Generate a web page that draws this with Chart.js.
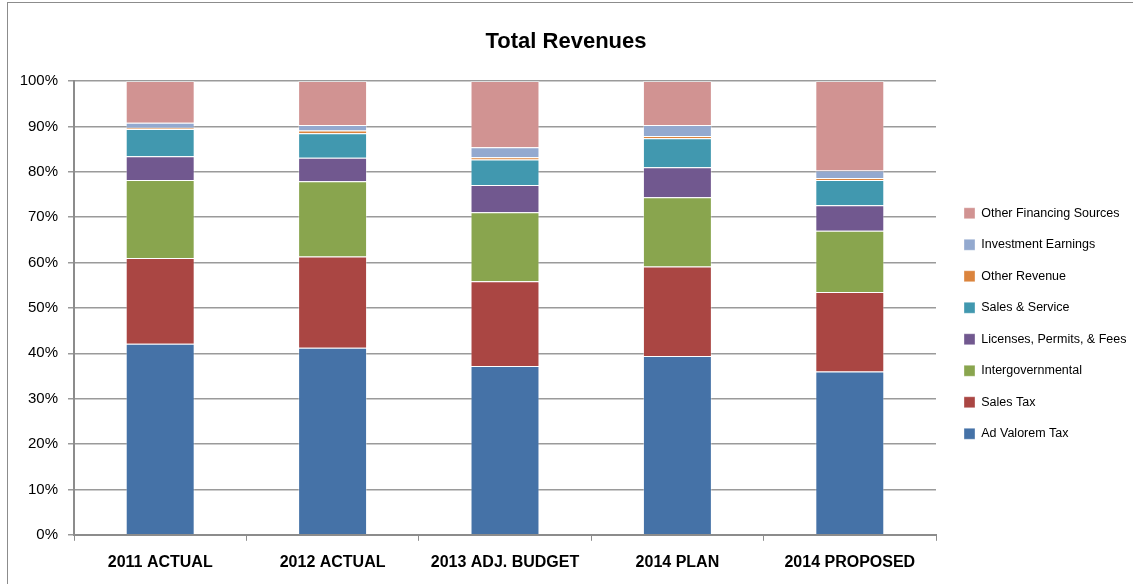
<!DOCTYPE html>
<html>
<head>
<meta charset="utf-8">
<script src="https://cdn.jsdelivr.net/npm/chart.js@4.4.1/dist/chart.umd.min.js"></script>
<style>
  html, body { margin: 0; padding: 0; background: #fff; }
  #wrap {
    position: absolute; left: 7px; top: 2px;
    width: 1130px; height: 590px;
    border: 1px solid #8c8c8c; box-sizing: border-box;
  }
  #myChart { display: block; }
</style>
</head>
<body>
<div id="wrap"><canvas id="myChart" width="1128" height="588"></canvas></div>
<script>
// categories + series (percent of total revenues)
const categories = ['2011 ACTUAL', '2012 ACTUAL', '2013 ADJ. BUDGET', '2014 PLAN', '2014 PROPOSED'];
const adValoremTax = [42.1, 41.2, 37.2, 39.4, 36.0];
const salesTax = [18.9, 20.1, 18.7, 19.7, 17.5];
const intergovernmental = [17.2, 16.6, 15.2, 15.3, 13.5];
const licensesPermitsFees = [5.2, 5.2, 6.0, 6.6, 5.6];
const salesService = [6.0, 5.4, 5.6, 6.4, 5.6];
const otherRevenue = [0.3, 0.6, 0.5, 0.5, 0.4];
const investmentEarnings = [1.1, 1.2, 2.2, 2.4, 1.7];
const otherFinancing = [9.2, 9.7, 14.6, 9.7, 19.7];
const yTicks = [0, 10, 20, 30, 40, 50, 60, 70, 80, 90, 100];

const FONT = "'Liberation Sans', Arial, sans-serif";

const series = [
  { label: 'Ad Valorem Tax', data: adValoremTax, color: '#4572A7' },
  { label: 'Sales Tax', data: salesTax, color: '#AA4643' },
  { label: 'Intergovernmental', data: intergovernmental, color: '#89A54E' },
  { label: 'Licenses, Permits, & Fees', data: licensesPermitsFees, color: '#71588F' },
  { label: 'Sales & Service', data: salesService, color: '#4198AF' },
  { label: 'Other Revenue', data: otherRevenue, color: '#DB843D' },
  { label: 'Investment Earnings', data: investmentEarnings, color: '#93A9CF' },
  { label: 'Other Financing Sources', data: otherFinancing, color: '#D19392' }
];

// move the legend block to where the reference has it (right side, below middle)
const legendPlacer = {
  id: 'legendPlacer',
  afterLayout(chart) {
    const lg = chart.legend;
    if (!lg) return;
    const w = chart.width - 937;
    lg.left = 937; lg.right = 937 + w; lg.width = w;
    lg.top = 185; lg.bottom = chart.height; lg.height = chart.height - 185;
  }
};

const ctx = document.getElementById('myChart').getContext('2d');

new Chart(ctx, {
  type: 'bar',
  data: {
    labels: categories,
    datasets: series.map(s => ({
      label: s.label,
      data: s.data,
      backgroundColor: s.color,
      borderColor: 'rgba(255,255,255,0.35)',
      borderWidth: 1,
      categoryPercentage: 1,
      barPercentage: 0.4
    }))
  },
  options: {
    responsive: false,
    animation: false,
    layout: { padding: { left: 8, right: 20, top: 0, bottom: 7 } },
    plugins: {
      title: {
        display: true,
        text: 'Total Revenues',
        color: '#000',
        font: { family: FONT, size: 22, weight: 'bold' },
        padding: { top: 26, bottom: 25.6 }
      },
      legend: {
        position: 'right',
        align: 'start',
        reverse: true,
        maxWidth: 180,
        labels: {
          color: '#000',
          font: { family: FONT, size: 12.5 },
          boxWidth: 11,
          boxHeight: 11,
          padding: 19
        }
      },
      tooltip: { enabled: false }
    },
    scales: {
      x: {
        stacked: true,
        grid: { display: true, drawOnChartArea: false, drawTicks: true, tickLength: 6, offset: true, color: '#8c8c8c' },
        border: { color: '#8c8c8c', width: 2 },
        ticks: { color: '#000', font: { family: FONT, size: 16, weight: 'bold' }, padding: 12 }
      },
      y: {
        stacked: true,
        min: 0,
        max: 100,
        afterBuildTicks: scale => { scale.ticks = yTicks.map(v => ({ value: v })); },
        afterFit: scale => { scale.width = 58; },
        grid: { color: '#9a9a9a', lineWidth: 1.5, tickLength: 6 },
        border: { color: '#8c8c8c', width: 2 },
        ticks: {
          color: '#000',
          font: { family: FONT, size: 15 },
          padding: 10,
          callback: v => v + '%'
        }
      }
    }
  },
  plugins: [legendPlacer]
});
</script>
</body>
</html>
